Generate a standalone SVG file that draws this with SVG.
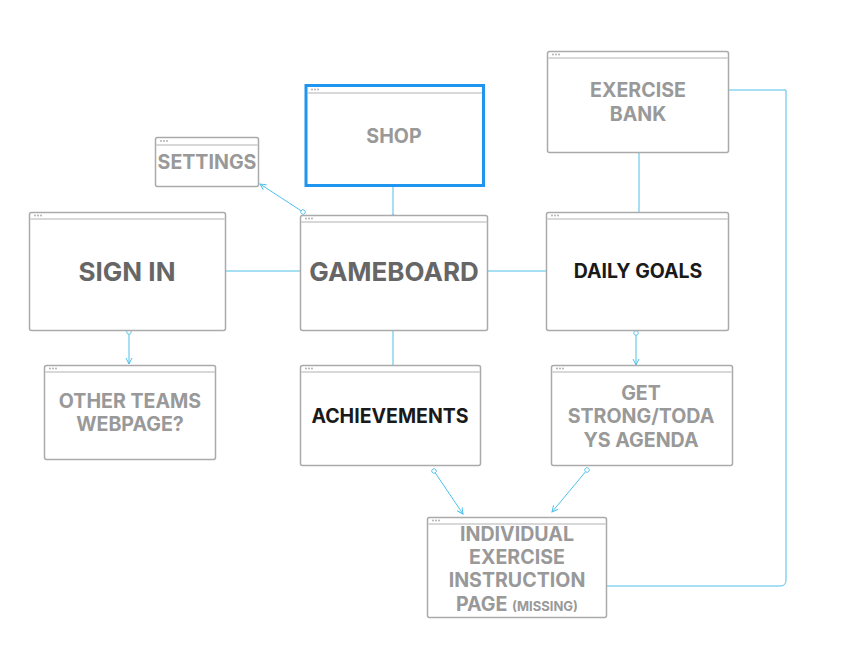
<svg xmlns="http://www.w3.org/2000/svg" width="862" height="650" viewBox="0 0 862 650">
<defs>
<style>
.win{fill:#fff;stroke:#aaaaaa;stroke-width:1.5}
.bar{stroke:#d8d8d8;stroke-width:2}
.dot{fill:#aaaaaa}
.t{font-family:Inter,"Liberation Sans",sans-serif;font-weight:700;text-anchor:middle}
.g{fill:#999999;font-size:19.6px}
.d{fill:#666666;font-size:26px}
.k{fill:#1a1a1a;font-size:19.5px}
.c{fill:none;stroke:#4fc0ea;stroke-width:1}
</style>
<marker id="arr" viewBox="0 0 8 8" refX="7" refY="4" markerWidth="8" markerHeight="8" orient="auto" markerUnits="userSpaceOnUse">
<path d="M1,1 L7,4 L1,7" fill="none" stroke="#4fc0ea" stroke-width="1"/>
</marker>
<marker id="ring" viewBox="0 0 8 8" refX="4" refY="4" markerWidth="7" markerHeight="7" orient="auto" markerUnits="userSpaceOnUse">
<circle cx="4" cy="4" r="2.6" fill="#fff" stroke="#4fc0ea" stroke-width="1"/>
</marker>
</defs>
<rect width="862" height="650" fill="#fff"/>

<g id="connectors">
<path class="c" d="M303,212 L260,184" marker-start="url(#ring)" marker-end="url(#arr)"/>
<path class="c" d="M393,187 L393,217" marker-end="url(#ring)"/>
<path class="c" d="M226,271 L300,271"/>
<path class="c" d="M488,271 L546,271"/>
<path class="c" d="M393,331 L393,365"/>
<path class="c" d="M639,153 L639,212"/>
<path class="c" d="M729,90 L786,90 L786,580 Q786,586 780,586 L607,586"/>
<path class="c" d="M129,332 L129,364" marker-start="url(#ring)" marker-end="url(#arr)"/>
<path class="c" d="M636,333 L636,365" marker-start="url(#ring)" marker-end="url(#arr)"/>
<path class="c" d="M434,471 L463,514" marker-start="url(#ring)" marker-end="url(#arr)"/>
<path class="c" d="M587,470 L552,512" marker-start="url(#ring)" marker-end="url(#arr)"/>
</g>

<g id="settings">
<rect class="win" x="155.5" y="137.5" width="103" height="49" rx="2"/>
<line class="bar" x1="156" y1="145" x2="258" y2="145"/>
<circle class="dot" cx="161" cy="141" r="0.9"/><circle class="dot" cx="164" cy="141" r="0.9"/><circle class="dot" cx="167" cy="141" r="0.9"/>
<text class="t g" x="207" y="169">SETTINGS</text>
</g>

<g id="shop">
<rect x="306" y="85.5" width="177.5" height="100" fill="#fff" stroke="#1e96f0" stroke-width="3"/>
<line class="bar" x1="308" y1="93" x2="482" y2="93"/>
<circle class="dot" cx="312" cy="89.5" r="0.9"/><circle class="dot" cx="315" cy="89.5" r="0.9"/><circle class="dot" cx="318" cy="89.5" r="0.9"/>
<text class="t g" x="394" y="143">SHOP</text>
</g>

<g id="sign-in">
<rect class="win" x="29.5" y="212.5" width="196" height="118" rx="2"/>
<line class="bar" x1="30" y1="219" x2="225" y2="219"/>
<circle class="dot" cx="35" cy="215.5" r="0.9"/><circle class="dot" cx="38" cy="215.5" r="0.9"/><circle class="dot" cx="41" cy="215.5" r="0.9"/>
<text class="t d" x="127" y="281">SIGN IN</text>
</g>

<g id="gameboard">
<rect class="win" x="300.5" y="215.5" width="187" height="115" rx="2"/>
<line class="bar" x1="301" y1="222" x2="487" y2="222"/>
<circle class="dot" cx="306" cy="218.5" r="0.9"/><circle class="dot" cx="309" cy="218.5" r="0.9"/><circle class="dot" cx="312" cy="218.5" r="0.9"/>
<text class="t d" x="394" y="281">GAMEBOARD</text>
</g>

<g id="daily-goals">
<rect class="win" x="546.5" y="212.5" width="182" height="118" rx="2"/>
<line class="bar" x1="547" y1="219" x2="728" y2="219"/>
<circle class="dot" cx="552" cy="215.5" r="0.9"/><circle class="dot" cx="555" cy="215.5" r="0.9"/><circle class="dot" cx="558" cy="215.5" r="0.9"/>
<text class="t k" x="638" y="278">DAILY GOALS</text>
</g>

<g id="exercise-bank">
<rect class="win" x="547.5" y="51.5" width="181" height="101" rx="2"/>
<line class="bar" x1="548" y1="58" x2="728" y2="58"/>
<circle class="dot" cx="553" cy="54.5" r="0.9"/><circle class="dot" cx="556" cy="54.5" r="0.9"/><circle class="dot" cx="559" cy="54.5" r="0.9"/>
<text class="t g" x="638" y="97">EXERCISE</text>
<text class="t g" x="638" y="121">BANK</text>
</g>

<g id="other-teams">
<rect class="win" x="44.5" y="365.5" width="171" height="94" rx="2"/>
<line class="bar" x1="45" y1="372" x2="215" y2="372"/>
<circle class="dot" cx="50" cy="368.5" r="0.9"/><circle class="dot" cx="53" cy="368.5" r="0.9"/><circle class="dot" cx="56" cy="368.5" r="0.9"/>
<text class="t g" x="130" y="408">OTHER TEAMS</text>
<text class="t g" x="130" y="431">WEBPAGE?</text>
</g>

<g id="achievements">
<rect class="win" x="300.5" y="365.5" width="180" height="100" rx="2"/>
<line class="bar" x1="301" y1="372" x2="480" y2="372"/>
<circle class="dot" cx="306" cy="368.5" r="0.9"/><circle class="dot" cx="309" cy="368.5" r="0.9"/><circle class="dot" cx="312" cy="368.5" r="0.9"/>
<text class="t k" x="390" y="423">ACHIEVEMENTS</text>
</g>

<g id="get-strong">
<rect class="win" x="551.5" y="365.5" width="181" height="100" rx="2"/>
<line class="bar" x1="552" y1="372" x2="732" y2="372"/>
<circle class="dot" cx="557" cy="368.5" r="0.9"/><circle class="dot" cx="560" cy="368.5" r="0.9"/><circle class="dot" cx="563" cy="368.5" r="0.9"/>
<text class="t g" x="641" y="400">GET</text>
<text class="t g" x="641" y="423">STRONG/TODA</text>
<text class="t g" x="641" y="447">YS AGENDA</text>
</g>

<g id="individual-exercise">
<rect class="win" x="427.5" y="517.5" width="179" height="100" rx="2"/>
<line class="bar" x1="428" y1="524" x2="606" y2="524"/>
<circle class="dot" cx="433" cy="520.5" r="0.9"/><circle class="dot" cx="436" cy="520.5" r="0.9"/><circle class="dot" cx="439" cy="520.5" r="0.9"/>
<text class="t g" x="517" y="541">INDIVIDUAL</text>
<text class="t g" x="517" y="564">EXERCISE</text>
<text class="t g" x="517" y="587">INSTRUCTION</text>
<text class="t g" x="517" y="611">PAGE <tspan font-size="13">(MISSING)</tspan></text>
</g>
</svg>
